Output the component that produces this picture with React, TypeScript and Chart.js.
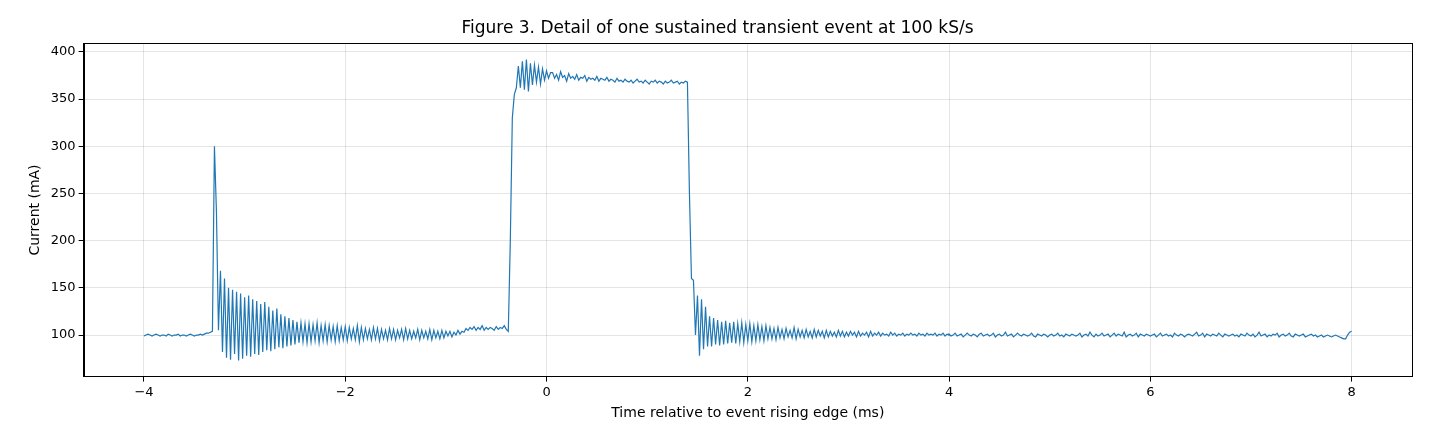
import React, { useEffect, useRef } from "react";
import { Chart, registerables } from "chart.js";
Chart.register(...registerables);

const STEP_MS = 0.02;
const segStarts = [-4.0, -3.3, -3.18, -2.48, -0.98, -0.58, -0.38, -0.28, 0.06, 1.42, 2.22, 4.0, 7.94];
const seg1 = [99,100,101,100,99,100,101,100,99,100,100,99,101,100,99,100,100,101,99,100,100,99,100,101,100,99,100,100,101,100,101,102,102,103,104];
const seg2 = [300,230,105,168,82,160];
const seg3 = [76,150,74,148,80,146,73,144,75,140,78,142,77,138,80,136,79,133,82,135,84,130,83,126,85,128,87,122,86,120,88,118,89,116,90];
const seg4 = [114,92,113,93,112,92,112,93,111,94,113,92,110,94,111,93,110,95,109,93,110,94,108,95,109,94,108,96,107,95,110,93,108,95,107,96,106,95,108,96,107,94,106,96,105,95,107,96,106,95,105,97,106,95,107,96,105,96,104,97,106,95,105,97,104,96,106,95,105,97,104,96,105,97,104];
const seg5 = [99,104,98,103,100,105,101,104,103,107,105,108,106,109,105,108,106,110,105,108];
const seg6 = [106,108,107,105,109,106,108,107,110,106];
const seg7 = [104,200,330,355,362];
const seg8 = [385,362,390,360,392,358,388,365,386,368,384,366,382,370,380,372,378];
const seg9 = [378,372,376,370,379,373,375,369,377,372,374,371,376,370,373,372,375,369,373,371,372,370,374,369,372,371,370,373,369,371,370,368,372,369,370,368,371,369,368,370,367,369,371,368,369,367,370,368,366,369,368,370,367,369,368,366,369,367,368,370,367,368,369,366,368,367,369,368];
const seg10 = [250,160,158,100,142,78,138,85,130,88,120,88,118,90,116,89,114,90,115,91,113,92,114,91,112,93,113,92,111,94,112,93,110,94,111,95,109,94,110,96];
const seg11 = [108,96,107,95,108,97,106,96,107,98,105,97,108,96,106,98,105,97,106,98,104,97,106,98,105,99,104,97,105,98,104,99,103,98,105,99,104,98,103,99,104,100,103,98,104,99,102,100,103,98,104,99,102,100,103,99,102,100,101,99,103,100,102,99,101,100,102,99,101,100,102,100,101,99,102,100,101,99,102,100,101,100,102,99,101,100,102,99,101,100];
const seg12 = [
101,99,100,102,99,100,101,98,100,102,100,99,101,100,98,101,102,99,100,101,
99,100,102,98,100,101,99,100,103,99,100,101,98,100,102,100,99,101,100,99,
100,102,99,98,101,100,99,101,100,98,100,101,99,100,102,99,100,98,101,100,
99,101,100,99,100,102,98,100,101,99,103,100,98,101,99,100,102,99,100,101,
98,100,102,99,101,100,99,103,98,100,101,99,100,102,98,101,100,99,101,100,
99,100,101,98,100,102,99,100,101,99,100,98,102,100,99,101,100,98,100,101,
100,99,101,103,99,100,102,98,101,100,99,101,100,99,102,100,98,101,100,99,
100,101,99,100,98,101,100,99,102,100,99,101,98,100,103,99,100,101,98,100,
99,101,100,102,98,100,101,99,100,102,99,98,101,100,99,100,101,98,99,100,
101,99,100,98,99,100,98,99,100,99,98,99,100,99,98,97,96];
const seg13 = [96,100,103,104];
const segments = [seg1,seg2,seg3,seg4,seg5,seg6,seg7,seg8,seg9,seg10,seg11,seg12,seg13];
const xTicks = [-4, -2, 0, 2, 4, 6, 8];
const yTicks = [100, 150, 200, 250, 300, 350, 400];

const FONT = "'DejaVu Sans', sans-serif";

export default function App() {
  const ref = useRef<HTMLCanvasElement>(null);
  useEffect(() => {
    document.body.style.margin = "0";
    const pts: { x: number; y: number }[] = [];
    segments.forEach((s, k) => s.forEach((v, j) => pts.push({ x: segStarts[k] + j * STEP_MS, y: v })));
    const frame = {
      id: "frame",
      afterDraw(c: any) {
        const a = c.chartArea; const g = c.ctx;
        g.save(); g.strokeStyle = "#000"; g.lineWidth = 1;
        g.strokeRect(Math.round(a.left) + 0.5, Math.round(a.top) + 0.5, Math.round(a.right - a.left), Math.round(a.bottom - a.top));
        g.restore();
      },
    };
    const fmt = (v: number) => (v < 0 ? "\u2212" + Math.abs(v) : String(v));
    const chart = new Chart(ref.current!, {
      type: "line",
      data: { datasets: [{ data: pts, borderColor: "#1f77b4", borderWidth: 1.2, pointRadius: 0, tension: 0, fill: false }] },
      options: {
        animation: false, responsive: false, parsing: false as any,
        layout: { padding: { left: 23, right: 18, top: 10, bottom: 20 } },
        plugins: {
          legend: { display: false }, tooltip: { enabled: false },
          title: { display: true, text: "Figure 3. Detail of one sustained transient event at 100 kS/s", color: "#000", font: { family: FONT, size: 17, weight: "normal" }, padding: { top: 8, bottom: 5 } },
        },
        scales: {
          x: {
            type: "linear", min: -4.6, max: 8.6,
            afterBuildTicks: (s: any) => { s.ticks = xTicks.map((v) => ({ value: v })); },
            ticks: { color: "#000", font: { family: FONT, size: 13 }, callback: (v: any) => fmt(Number(v)), maxRotation: 0 },
            grid: { color: "rgba(0,0,0,0.1)", tickColor: "#000", tickLength: 5 },
            border: { color: "#000" },
            title: { display: true, text: "Time relative to event rising edge (ms)", color: "#000", font: { family: FONT, size: 14 }, padding: { top: 2, bottom: 0 } },
          },
          y: {
            type: "linear", min: 56, max: 409,
            afterBuildTicks: (s: any) => { s.ticks = yTicks.map((v) => ({ value: v })); },
            ticks: { color: "#000", font: { family: FONT, size: 13 } },
            grid: { color: "rgba(0,0,0,0.1)", tickColor: "#000", tickLength: 5 },
            border: { color: "#000" },
            title: { display: true, text: "Current (mA)", color: "#000", font: { family: FONT, size: 14 } },
          },
        },
      },
      plugins: [frame],
    });
    return () => chart.destroy();
  }, []);
  return <div style={{ width: 1430, height: 442 }}><canvas ref={ref} width={1430} height={442} /></div>;
}
